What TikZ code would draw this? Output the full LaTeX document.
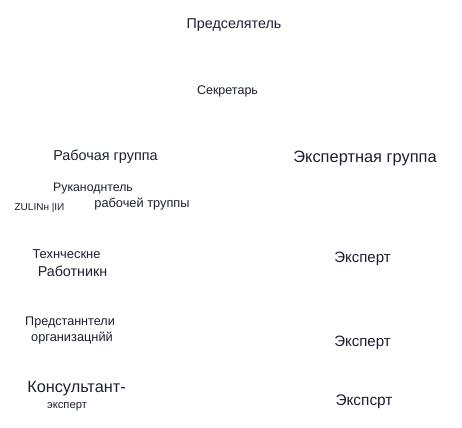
\documentclass[tikz,border=0pt]{standalone}
\usepackage{fontspec}
\setmainfont{Liberation Sans}
\definecolor{ink}{HTML}{1C2030}
\begin{document}
\begin{tikzpicture}[x=1bp,y=-1bp,
  lbl/.style={inner sep=0pt,text=ink,anchor=center},
  fs/.style={font=\fontsize{#1bp}{#1bp}\selectfont}]
\useasboundingbox[fill=white] (0,0) rectangle (462,427);
\node[lbl,fs=14.3] (pred) at (234,25) {Предселятель};
\node[lbl,fs=12.5] (sekr) at (227.5,91) {Секретарь};
\node[lbl,fs=14.4] (rab) at (105.5,157) {Рабочая группа};
\node[lbl,fs=16.4] (eksg) at (365,158) {Экспертная группа};
\node[lbl,fs=12.3] (ruk) at (93,189) {Руканоднтель};
\node[lbl,fs=10] (zul) at (39.5,208) {ZULINн |IИ};
\node[lbl,fs=12.8] (rabtr) at (142,204) {рабочей труппы};
\node[lbl,fs=12.9] (tech) at (66.5,254) {Технческне};
\node[lbl,fs=14.3] (rabot) at (72.5,271) {Работникн};
\node[lbl,fs=15] (eks1) at (362.5,259) {Эксперт};
\node[lbl,fs=12.6] (predst) at (70,322) {Предстаннтели};
\node[lbl,fs=12.8] (org) at (72,338) {организацнйй};
\node[lbl,fs=15] (eks2) at (362.5,343) {Эксперт};
\node[lbl,fs=16.3] (kons) at (76.5,389) {Консультант-};
\node[lbl,fs=11.2] (ekspm) at (67,407) {эксперт};
\node[lbl,fs=15.4] (eks3) at (364,402) {Экспсрт};
\end{tikzpicture}
\end{document}
